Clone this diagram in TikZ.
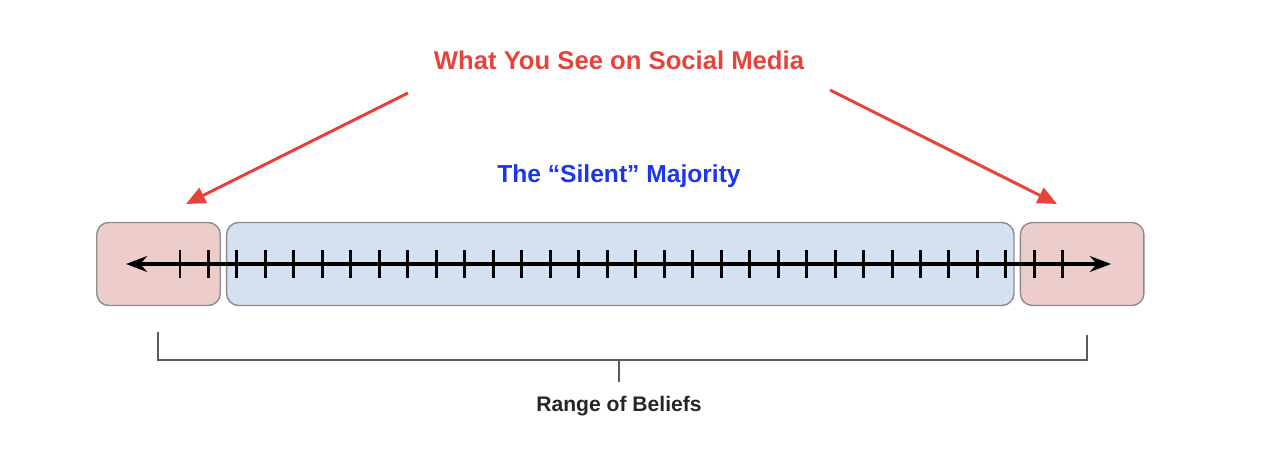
\documentclass[tikz,border=0pt]{standalone}
\usepackage{fontspec}
\setmainfont{Liberation Sans}
\usetikzlibrary{positioning,arrows.meta}

\definecolor{fringefill}{HTML}{ECCDCC}
\definecolor{silentfill}{HTML}{D5E1F0}
\definecolor{boxline}{HTML}{8C8C8C}
\definecolor{socialred}{HTML}{E8433A}
\definecolor{silentblue}{HTML}{1C36F0}
\definecolor{bracketgray}{HTML}{5A5A5A}

\begin{document}
\begin{tikzpicture}[
    x=0.02cm, y=-0.02cm,
    fringe/.style={rectangle, draw=boxline, line width=0.8pt, fill=fringefill, rounded corners=0.24cm, minimum width=2.47cm, minimum height=1.66cm, inner sep=0pt},
    silent/.style={fringe, fill=silentfill, minimum width=15.75cm},
    callout/.style={-{Triangle[length=11pt,width=9.5pt]}, socialred, line width=1.7pt},
    tick/.style={line width=1.7pt}
]
\useasboundingbox (0,0) rectangle (1280,459);

% Boxes
\node[fringe] (leftfringe) at (158.5,264) {};
\node[silent, right=0.1cm of leftfringe] (majority) {};
\node[fringe, right=0.1cm of majority] (rightfringe) {};

% Number line
\coordinate (lineleft) at (126,264);
\coordinate (lineright) at (1111,264);
\draw[{Stealth[length=12pt,width=9pt]}-{Stealth[length=12pt,width=9pt]}, line width=1.9pt] (lineleft) -- (lineright);
\foreach \i in {0,...,31}
    \draw[tick] ({180+\i*28.48},250) -- ({180+\i*28.48},278);

% Labels
\node[text=socialred, font=\bfseries\fontsize{14.6}{17}\selectfont] (social) at (619,60) {What You See on Social Media};
\node[text=silentblue, font=\bfseries\fontsize{14}{17}\selectfont] (silentlabel) at (619,176) {The “Silent” Majority};

% Callout arrows
\coordinate (leftstart) at (408,93);
\coordinate (lefttip) at (186,204);
\coordinate (rightstart) at (830,90);
\coordinate (righttip) at (1057,204);
\draw[callout] (leftstart) -- (lefttip);
\draw[callout] (rightstart) -- (righttip);

% Range bracket
\coordinate (bl) at (158,332);
\coordinate (br) at (1087,335);
\coordinate (stem) at (619,382);
\draw[bracketgray, line width=0.9pt] (bl) |- (br |- 0,360) -- (br);
\draw[bracketgray, line width=0.7pt] (stem |- 0,360) -- (stem);
\node[font=\bfseries\fontsize{12}{14}\selectfont, text=black!85] (range) at (619,406) {Range of Beliefs};

\end{tikzpicture}
\end{document}
